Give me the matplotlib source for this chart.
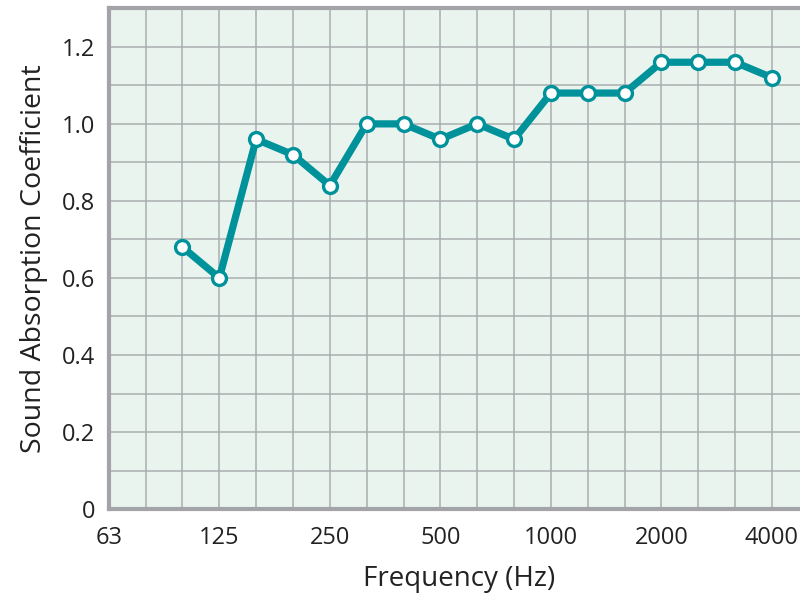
import matplotlib
matplotlib.use("Agg")
import matplotlib.pyplot as plt
import numpy as np

plt.rcParams['font.family'] = ['Open Sans', 'DejaVu Sans']

# third-octave bands from 63 Hz, x = band index
bands = [63, 80, 100, 125, 160, 200, 250, 315, 400, 500, 630, 800,
         1000, 1250, 1600, 2000, 2500, 3150, 4000]
freqs = [100, 125, 160, 200, 250, 315, 400, 500, 630, 800,
         1000, 1250, 1600, 2000, 2500, 3150, 4000]
alpha = [0.68, 0.60, 0.96, 0.92, 0.84, 1.00, 1.00, 0.96, 1.00, 0.96,
         1.08, 1.08, 1.08, 1.16, 1.16, 1.16, 1.12]
tick_labels = ['63', '125', '250', '500', '1000', '2000', '4000']

teal = '#00929b'
grid_c = '#a9adb0'

fig = plt.figure(figsize=(8, 5.94), dpi=100)
ax = fig.add_axes([0.136, 0.143, 0.875, 0.843])
ax.set_facecolor('#eaf4ee')

x = [bands.index(f) for f in freqs]
ax.plot(x, alpha, color=teal, lw=5.2, marker='o', ms=10,
        mfc='white', mec=teal, mew=2.4, zorder=3, solid_joinstyle='round')

ax.set_xlim(0, 19)
ax.set_ylim(0, 1.3)
ax.set_xticks(np.arange(0, 19), minor=True)
ax.set_xticks([bands.index(int(t)) for t in tick_labels])
ax.set_xticklabels(tick_labels)
ax.set_yticks(np.arange(0, 1.31, 0.1), minor=True)
ax.set_yticks([0, 0.2, 0.4, 0.6, 0.8, 1.0, 1.2])
ax.set_yticklabels(['0', '0.2', '0.4', '0.6', '0.8', '1.0', '1.2'])
ax.grid(which='both', color=grid_c, lw=1.1)
ax.set_axisbelow(True)
ax.tick_params(which='both', length=0, labelsize=17, colors='#222222')
ax.tick_params(axis='x', pad=12)
ax.tick_params(axis='y', pad=10)

for s in ['left', 'bottom', 'top']:
    ax.spines[s].set_color('#a2a4a7')
    ax.spines[s].set_linewidth(3)
ax.spines['right'].set_visible(False)

ax.set_xlabel('Frequency (Hz)', fontsize=20, color='#222222', labelpad=11)
ax.set_ylabel('Sound Absorption Coefficient', fontsize=20.5, color='#222222', labelpad=10)

fig.savefig('out.png', dpi=100)
